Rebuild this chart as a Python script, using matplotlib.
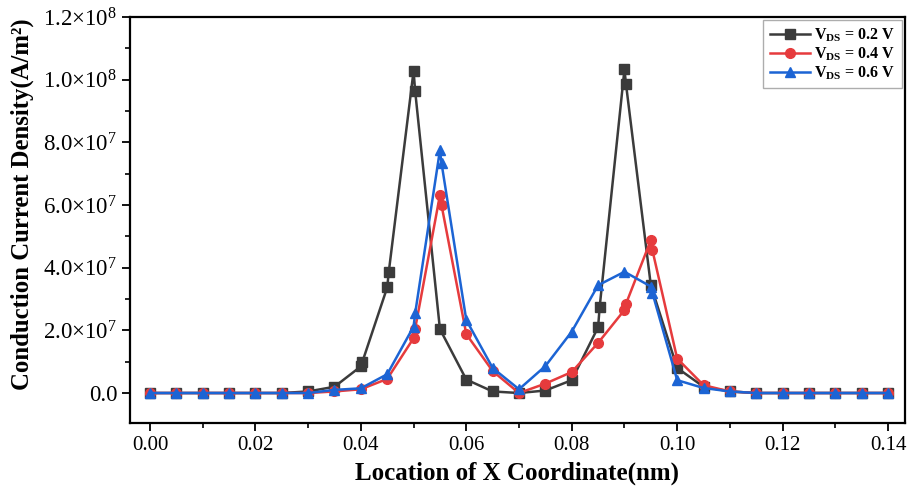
import numpy as np
import matplotlib
matplotlib.use('Agg')
import matplotlib.pyplot as plt
from matplotlib.ticker import FuncFormatter, MultipleLocator

plt.rcParams['font.family'] = ['Liberation Serif', 'DejaVu Serif']
plt.rcParams['mathtext.fontset'] = 'custom'
plt.rcParams['mathtext.rm'] = 'Liberation Serif'
plt.rcParams['mathtext.bf'] = 'Liberation Serif:bold'

# data (y in units of 1e7 A/m^2), doubled markers sit at x and x+0.0003
x_02 = [0, 0.005, 0.01, 0.015, 0.02, 0.025, 0.03, 0.035, 0.04, 0.0403, 0.045, 0.0453,
        0.05, 0.0503, 0.055, 0.06, 0.065, 0.07, 0.075, 0.08, 0.085, 0.0853, 0.09, 0.0903,
        0.095, 0.1, 0.105, 0.11, 0.115, 0.12, 0.125, 0.13, 0.135, 0.14]
y_02 = [0, 0, 0, 0, 0, 0, 0.05, 0.2, 0.85, 1.0, 3.37, 3.87,
        10.28, 9.64, 2.04, 0.43, 0.05, 0, 0.08, 0.41, 2.1, 2.75, 10.33, 9.85,
        3.44, 0.8, 0.2, 0.05, 0, 0, 0, 0, 0, 0]

x_04 = [0, 0.005, 0.01, 0.015, 0.02, 0.025, 0.03, 0.035, 0.04, 0.045, 0.05, 0.0503,
        0.055, 0.0553, 0.06, 0.065, 0.07, 0.075, 0.08, 0.085, 0.09, 0.0903, 0.095, 0.0953,
        0.1, 0.105, 0.11, 0.115, 0.12, 0.125, 0.13, 0.135, 0.14]
y_04 = [0, 0, 0, 0, 0, 0, 0, 0.05, 0.12, 0.45, 1.75, 2.05,
        6.32, 6.0, 1.88, 0.7, 0, 0.3, 0.67, 1.6, 2.65, 2.85, 4.88, 4.56,
        1.1, 0.25, 0.05, 0, 0, 0, 0, 0, 0]

x_06 = [0, 0.005, 0.01, 0.015, 0.02, 0.025, 0.03, 0.035, 0.04, 0.045, 0.05, 0.0503,
        0.055, 0.0553, 0.06, 0.065, 0.07, 0.075, 0.08, 0.085, 0.09, 0.095, 0.0953,
        0.1, 0.105, 0.11, 0.115, 0.12, 0.125, 0.13, 0.135, 0.14]
y_06 = [0, 0, 0, 0, 0, 0, 0, 0.1, 0.15, 0.6, 2.12, 2.54,
        7.75, 7.34, 2.33, 0.8, 0.12, 0.86, 1.96, 3.44, 3.87, 3.4, 3.2,
        0.41, 0.16, 0.05, 0, 0, 0, 0, 0, 0]

labels = [r'$\mathbf{V_{DS}}$ = 0.2 V', r'$\mathbf{V_{DS}}$ = 0.4 V', r'$\mathbf{V_{DS}}$ = 0.6 V']
colors = ['#3b3b3b', '#e63b3d', '#1c64d4']
markers = ['s', 'o', '^']

fig = plt.figure(figsize=(9.15, 4.88), dpi=100)
ax = fig.add_axes([0.142, 0.133, 0.847, 0.832])

series = [(x_02, y_02), (x_04, y_04), (x_06, y_06)]
for (xs, ys), lab, c, m in zip(series, labels, colors, markers):
    ax.plot(xs, np.array(ys) * 1e7, color=c, marker=m, markersize=7, linewidth=1.8, label=lab)

ax.set_xlim(-0.0038, 0.1432)
ax.set_ylim(-0.96e7, 1.2e8)
ax.xaxis.set_major_locator(MultipleLocator(0.02))
ax.xaxis.set_minor_locator(MultipleLocator(0.01))
ax.yaxis.set_major_locator(MultipleLocator(2e7))
ax.yaxis.set_minor_locator(MultipleLocator(1e7))


def sci(v, pos):
    if abs(v) < 1:
        return '0.0'
    e = int(np.floor(np.log10(abs(v))))
    return r'$\mathregular{%.1f{\times}10^{%d}}$' % (v / 10 ** e, e)


ax.yaxis.set_major_formatter(FuncFormatter(sci))
ax.xaxis.set_major_formatter(FuncFormatter(lambda v, p: '%.2f' % v))
ax.tick_params(which='major', direction='out', length=6, width=1.3, labelsize=15, pad=3)
ax.tick_params(axis='y', which='major', labelsize=16.5)
ax.tick_params(which='minor', direction='out', length=3.5, width=1.2)
for s in ax.spines.values():
    s.set_linewidth(1.6)

ax.set_xlabel('Location of X Coordinate(nm)', fontsize=18, fontweight='bold', labelpad=5)
ax.set_ylabel('Conduction Current Density(A/m²)', fontsize=17.8, fontweight='bold')
ax.yaxis.label.set_va('center')
ax.yaxis.set_label_coords(-0.139, 0.539)

leg = ax.legend(loc='upper right', prop={'weight': 'bold', 'size': 11.5},
                fancybox=False, edgecolor='#999999', handlelength=2.5,
                borderaxespad=0.2, labelspacing=0.1, handletextpad=0.3)
leg.get_frame().set_linewidth(1.0)

fig.savefig('out.png', dpi=100)
